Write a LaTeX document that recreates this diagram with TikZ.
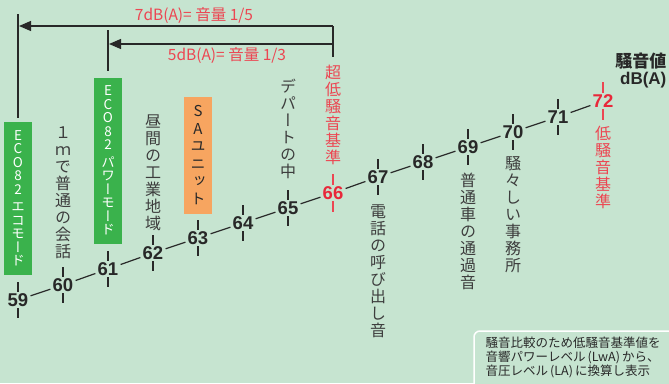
\documentclass[tikz,border=0pt]{standalone}
\usepackage{fontspec}
\setmainfont{Liberation Sans}
\newfontfamily\jp{Noto Sans CJK JP}
\newfontfamily\jpv[RawFeature=+vert]{Noto Sans CJK JP}
\usepackage{tikz}
\usetikzlibrary{positioning,arrows.meta}
\definecolor{bgcol}{RGB}{198,228,208}
\definecolor{boxgreen}{RGB}{58,178,76}
\definecolor{boxorange}{RGB}{247,165,96}
\definecolor{redtext}{RGB}{236,70,82}
\definecolor{rednum}{RGB}{232,40,58}
\definecolor{ink}{RGB}{40,40,40}
\tikzset{num/.style={font=\fontsize{18.5}{18}\selectfont\bfseries,text=ink,inner sep=0pt,minimum width=24pt,minimum height=15pt}}
\tikzset{tate/.style={font=\jpv\fontsize{16}{17}\selectfont,align=center,inner sep=0pt,text=ink!90}}
\tikzset{tatebox/.style={font=\jpv\fontsize{13.5}{13.5}\selectfont,align=center,inner sep=0pt,minimum width=28pt,anchor=north}}
\tikzset{redlabel/.style={font=\jp\fontsize{15.5}{16}\selectfont,text=redtext,inner sep=0pt}}

\begin{document}
\begin{tikzpicture}[x=1pt,y=-1pt,line width=1.2pt,>={Triangle[length=12pt,width=10pt]}]
    \useasboundingbox (0,0) rectangle (669,383);
    \fill[bgcol] (0,0) rectangle (669,383);

    % noise levels
    \node[num] (n59) at (18,300) {59};
    \node[num] (n60) at (63,285) {60};
    \node[num] (n61) at (108,269) {61};
    \node[num] (n62) at (153,253) {62};
    \node[num] (n63) at (198,238) {63};
    \node[num] (n64) at (243,223) {64};
    \node[num] (n65) at (288,208) {65};
    \node[num,text=rednum] (n66) at (333,193) {66};
    \node[num] (n67) at (378,177) {67};
    \node[num] (n68) at (423,162) {68};
    \node[num] (n69) at (468,147) {69};
    \node[num] (n70) at (513,132) {70};
    \node[num] (n71) at (558,117) {71};
    \node[num,text=rednum] (n72) at (603,101) {72};

    \draw[ink] (n59) -- (n60) -- (n61) -- (n62) -- (n63) -- (n64) -- (n65) -- (n66)
        -- (n67) -- (n68) -- (n69) -- (n70) -- (n71) -- (n72);

    % ticks
    \draw[ink] (n59.north) -- ++(0,-10) (n59.south) -- ++(0,10);
    \draw[ink] (n60.north) -- ++(0,-10) (n60.south) -- ++(0,10);
    \draw[ink] (n61.north) -- ++(0,-10) (n61.south) -- ++(0,10);
    \draw[ink] (n62.north) -- ++(0,-10) (n62.south) -- ++(0,10);
    \draw[ink] (n63.north) -- ++(0,-10) (n63.south) -- ++(0,10);
    \draw[ink] (n64.north) -- ++(0,-10) (n64.south) -- ++(0,10);
    \draw[ink] (n65.north) -- ++(0,-10) (n65.south) -- ++(0,10);
    \draw[redtext] (n66.north) -- ++(0,-11) (n66.south) -- ++(0,11);
    \draw[ink] (n67.north) -- ++(0,-10) (n67.south) -- ++(0,10);
    \draw[ink] (n68.north) -- ++(0,-10) (n68.south) -- ++(0,10);
    \draw[ink] (n69.north) -- ++(0,-10) (n69.south) -- ++(0,10);
    \draw[ink] (n70.north) -- ++(0,-10) (n70.south) -- ++(0,10);
    \draw[ink] (n71.north) -- ++(0,-10) (n71.south) -- ++(0,10);
    \draw[redtext] (n72.north) -- ++(0,-11) (n72.south) -- ++(0,11);

    % boxed labels
    \node[tatebox,fill=boxgreen,text=white,minimum height=153pt] (eco1) at (18,121)
        {E\\C\\O\\8\\2\\[4pt]エ\\コ\\モ\\ー\\ド};
    \node[tatebox,fill=boxgreen,text=white,minimum height=166pt] (eco2) at (108,77)
        {E\\C\\O\\8\\2\\[4pt]パ\\ワ\\ー\\モ\\ー\\ド};
    \node[tatebox,fill=boxorange,text=ink,minimum height=117pt,font=\jpv\fontsize{15}{17.5}\selectfont] (sa) at (198,96)
        {S\\A\\ユ\\ニ\\ッ\\ト};

    % vertical labels
    \node[tate,anchor=south] (l60) at (63,259) {１\\ｍ\\で\\普\\通\\の\\会\\話};
    \node[tate,anchor=south] (l62) at (153,231) {昼\\間\\の\\工\\業\\地\\域};
    \node[tate,anchor=south] (l65) at (288,179) {デ\\パ\\ー\\ト\\の\\中};
    \node[tate,anchor=south,text=redtext] (l66) at (333,165) {超\\低\\騒\\音\\基\\準};
    \node[tate,anchor=north] (l67) at (378,204) {電\\話\\の\\呼\\び\\出\\し\\音};
    \node[tate,anchor=north] (l69) at (468,172) {普\\通\\車\\の\\通\\過\\音};
    \node[tate,anchor=north] (l70) at (513,156) {騒\\々\\し\\い\\事\\務\\所};
    \node[tate,anchor=north,text=redtext] (l72) at (603,126) {低\\騒\\音\\基\\準};

    % difference arrows
    \coordinate (a7top) at (18,14);
    \coordinate (a7l) at (19,26);
    \coordinate (a7r) at (333,26);
    \coordinate (a5top) at (108,30);
    \coordinate (a5l) at (109,44);
    \coordinate (a5r) at (333,44);
    \coordinate (rbot) at (333,57);
    \draw[ink] (a7top) -- ([yshift=3pt]eco1.north);
    \draw[ink] (a5top) -- ([yshift=6pt]eco2.north);
    \draw[ink] (a7r) -- (rbot);
    \draw[ink,->] (a7r) -- (a7l);
    \draw[ink,->] (a5r) -- (a5l);
    \node[redlabel] (t7) at (194,16) {7dB(A)= 音量 1/5};
    \node[redlabel] (t5) at (227,56) {5dB(A)= 音量 1/3};

    % unit
    \node[font=\jp\fontsize{17}{17}\selectfont\bfseries,text=ink,align=right,inner sep=0pt,anchor=north east] (unit) at (667,52)
        {騒音値\\{\rmfamily\fontsize{17}{17}\selectfont\bfseries dB(A)}};

    % note
    \draw[white,line width=1.5pt,rounded corners=6pt,fill=bgcol] (474,331) rectangle (690,400);
    \node[font=\jp\fontsize{12.5}{14}\selectfont,text=ink,align=left,inner sep=0pt,anchor=north west] (note) at (485,336)
        {騒音比較のため低騒音基準値を\\音響パワーレベル\,(LwA)\,から、\\音圧レベル\,(LA)\,に換算し表示};
\end{tikzpicture}
\end{document}
